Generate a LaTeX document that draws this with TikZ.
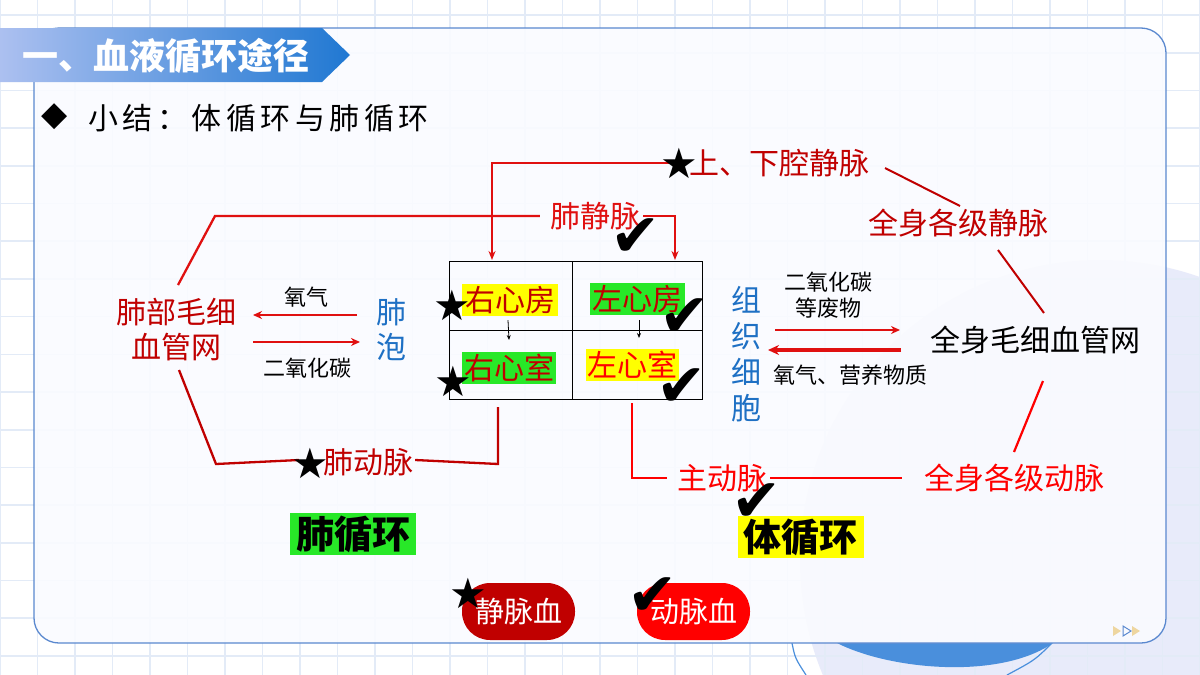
\documentclass[tikz,border=0pt]{standalone}
\usepackage{fontspec}
\usetikzlibrary{arrows.meta}
\newfontfamily\cjk{Noto Sans CJK SC}
\newfontfamily\cjksp{Noto Sans CJK SC}[LetterSpace=15]
\newfontfamily\sym{DejaVu Sans}
\definecolor{dred}{HTML}{C00000}
\definecolor{mred}{HTML}{E01010}
\definecolor{bred}{HTML}{FF0000}
\definecolor{tblue}{HTML}{1E70C4}
\definecolor{hgreen}{RGB}{40,232,40}
\definecolor{hyellow}{HTML}{FFFF00}
\definecolor{gridc}{HTML}{E3EBF7}
\definecolor{panelb}{HTML}{5A88CF}
\definecolor{lav}{RGB}{232,235,250}
\definecolor{bannl}{RGB}{172,192,240}
\definecolor{bannr}{RGB}{32,120,210}
\definecolor{lensc}{RGB}{74,143,220}
\definecolor{paley}{RGB}{238,214,160}
\tikzset{
  big/.style={inner sep=0pt, font=\cjk\fontsize{30}{35}\selectfont},
  small/.style={inner sep=0pt, font=\cjk\fontsize{22}{26}\selectfont, text=black},
  cell/.style={inner sep=0pt, minimum height=32pt, font=\cjk\fontsize{30}{30}\selectfont},
  circname/.style={inner sep=0pt, minimum width=126pt, minimum height=42pt, font=\cjk\bfseries\fontsize{38}{38}\selectfont, text=black},
  pill/.style={inner sep=0pt, minimum width=113pt, minimum height=57pt, rounded corners=28pt, font=\cjk\fontsize{29}{29}\selectfont, text=white},
  starmk/.style={inner sep=0pt, font=\sym\fontsize{42}{42}\selectfont, text=black},
  chkmk/.style={inner sep=0pt, font=\sym\fontsize{60}{60}\selectfont, text=black},
  vlink/.style={line width=2.3pt},
  arr/.style={-{Stealth[length=9pt,width=7pt]}},
  xarr/.style={-{Stealth[length=9pt,width=8pt]}, line width=2pt, mred},
}
\begin{document}
\begin{tikzpicture}[x=1pt,y=-1pt]
\useasboundingbox (0,0) rectangle (1200,675);
\fill[white] (0,0) rectangle (1200,675);
% background decoration
\fill[lav] (1100,560) circle (300);
\foreach \k in {0,...,32} \draw[gridc, line width=1.6pt] ({37.5*\k},0) -- ({37.5*\k},675);
\foreach \k in {0,...,17} \draw[gridc, line width=1.6pt] (0,{15+37.7*\k}) -- (1200,{15+37.7*\k});
\fill[lensc] (837,643) .. controls (890,670) and (1000,680) .. (1053,643) -- cycle;
\draw[lensc, line width=1.2pt] (792,643) .. controls (795,658) .. (806,675);
\draw[lensc, line width=1.2pt] (1052,643) .. controls (1035,660) .. (1007,675);
% panel
\draw[panelb, line width=1.3pt, fill={rgb,255:red,250;green,251;blue,255}, fill opacity=0.9, rounded corners=25pt] (34,28) rectangle (1166,643);
% banner
\shade[left color=bannl, right color=bannr] (0,28) -- (322,28) -- (350,55) -- (322,82) -- (0,82) -- cycle;
\node[inner sep=0pt, text=white, font=\cjk\bfseries\fontsize{36}{36}\selectfont] (title) at (166,56) {一、血液循环途径};
% subtitle
\node[inner sep=0pt, font=\sym\fontsize{34}{34}\selectfont] (dia) at (55,117) {◆};
\node[inner sep=0pt, anchor=west, font=\cjksp\fontsize{30}{30}\selectfont] (sub) at (88,118) {小结：体循环与肺循环};
% next arrows
\fill[paley] (1113,626) -- (1121,631) -- (1113,636) -- cycle;
\draw[panelb, line width=1pt] (1123,626) -- (1131,631) -- (1123,636) -- cycle;
\fill[paley] (1132,626) -- (1140,631) -- (1132,636) -- cycle;

% heart grid
\draw[black, line width=0.9pt] (449,261) rectangle (702,399);
\draw[black, line width=0.9pt] (572,261) -- (572,399);
\draw[black, line width=0.9pt] (449,330) -- (702,330);
\node[cell, fill=hyellow, text=dred, minimum width=96pt] (ra) at (510,300) {右心房};
\node[cell, fill=hgreen, text=dred, minimum width=95pt] (la) at (637.5,299) {左心房};
\node[cell, fill=hgreen, text=dred, minimum width=94pt] (rv) at (509,368) {右心室};
\node[cell, fill=hyellow, text=bred, minimum width=93pt] (lv) at (632.5,364.5) {左心室};
\draw[-{Stealth[length=5pt,width=4pt]}, line width=0.8pt] ([xshift=-2pt,yshift=-4pt]ra.south) -- ([xshift=-1pt,yshift=-340pt]ra.south |- 0,0);
\draw[-{Stealth[length=5pt,width=4pt]}, line width=0.8pt] ([xshift=1.5pt,yshift=-5pt]la.south) -- ([xshift=1.5pt,yshift=-338pt]la.south |- 0,0);

% labels
\node[big, text=dred] (sxq) at (779,163) {上、下腔静脉};
\node[big, text=dred] (qjm) at (958,223) {全身各级静脉};
\node[big, text=black] (qmx) at (1035,340) {全身毛细血管网};
\node[big, text=bred] (qdm) at (1014.5,478) {全身各级动脉};
\node[big, text=bred] (ao) at (722,478) {主动脉};
\node[big, text=dred] (pa) at (368,462) {肺动脉};
\node[big, text=mred] (pv) at (595,216) {肺静脉};
\node[big, text=dred, align=center] (fb) at (176,329.5) {肺部毛细\\血管网};
\node[big, text=tblue, align=center] (fp) at (391,329.5) {肺\\泡};
\node[big, text=tblue, align=center, font=\cjk\fontsize{30}{36}\selectfont] (zz) at (746,354) {组\\织\\细\\胞};
\node[small] (o2a) at (306,297) {氧气};
\node[small] (co2a) at (307,368) {二氧化碳};
\node[small, align=center] (co2b) at (828,295) {二氧化碳\\等废物};
\node[small] (o2b) at (850,375) {氧气、营养物质};
\node[circname, fill=hgreen] (fxh) at (353,534) {肺循环};
\node[circname, fill=hyellow] (txh) at (800.5,537) {体循环};

% coordinates
\coordinate (vcA) at (492,163);
\coordinate (raIn) at (492,260);
\coordinate (laIn) at (675,260);
\coordinate (pvA) at (675,216);
\coordinate (pvL) at (215,216);
\coordinate (fbT) at (178,285);
\coordinate (fbB) at (179,370);
\coordinate (paL) at (216,464);
\coordinate (paR) at (498,464);
\coordinate (rvOut) at (498,407);
\coordinate (lvOut) at (632,403);
\coordinate (aoL) at (632,478);

% connectors
\draw[vlink, mred, arr] ([xshift=-10pt]sxq.west) -- (vcA) -- (raIn);
\draw[vlink, mred, arr] ([xshift=3pt]pv.east) -- (pvA) -- (laIn);
\draw[vlink, mred] ([xshift=-10pt]pv.west) -- (pvL) -- (fbT);
\draw[vlink, dred] (rvOut) -- (paR) -- ([xshift=2pt,yshift=2pt]pa.east);
\draw[vlink, dred] ([xshift=-24pt,yshift=2pt]pa.west) -- (paL) -- (fbB);
\draw[line width=2.8pt, bred] (lvOut) -- (aoL) -- ([xshift=-10pt]ao.west);
\draw[line width=2.8pt, bred] ([xshift=3pt]ao.east) -- ([xshift=-22pt]qdm.west);
\draw[line width=2.2pt, bred] (1014,452) -- (1043,381);
\draw[line width=2pt, dred] (998,250) -- (1044,313);
\draw[line width=2pt, dred] (885,168) -- (960,206);
% exchange arrows
\draw[xarr] (357,315) -- (253,315);
\draw[xarr] (253,342) -- (360,342);
\draw[xarr] (775,330) -- (900,330);
\draw[-{Stealth[length=11pt,width=10pt]}, line width=3.4pt, mred] (901,350) -- (768,350);

% legend
\node[pill, fill=dred] (vb) at (518.5,611.5) {静脉血};
\node[pill, fill=bred] (ab) at (693.5,611.5) {动脉血};

% stars and checks
\node[starmk] (s1) at (679,163) {★};
\node[starmk] (s2) at (452,305) {★};
\node[starmk] (s3) at (453,381) {★};
\node[starmk] (s4) at (310,463) {★};
\node[starmk] (s5) at (468,593) {★};
\node[chkmk] (c1) at (636,238) {✔};
\node[chkmk] (c2) at (685,318) {✔};
\node[chkmk] (c3) at (682,388) {✔};
\node[chkmk] (c4) at (757,503) {✔};
\node[chkmk] (c5) at (653,597) {✔};
\end{tikzpicture}
\end{document}
